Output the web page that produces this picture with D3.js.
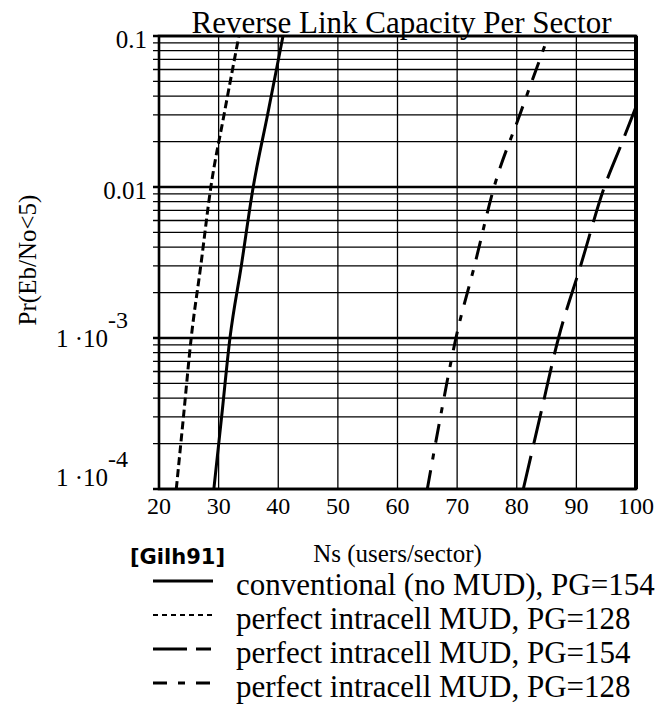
<!DOCTYPE html>
<html><head><meta charset="utf-8">
<script src="https://cdn.jsdelivr.net/npm/d3@7"></script>
<style>html,body{margin:0;padding:0;background:#fff;} svg{display:block;}</style>
</head><body>
<script>
// ---- data ----
const title = "Reverse Link Capacity Per Sector";
const xLabel = "Ns (users/sector)";
const yLabel = "Pr(Eb/No<5)";
const note = "[Gilh91]";
const xTicks = [20, 30, 40, 50, 60, 70, 80, 90, 100];
const yTickValues = [0.1, 0.01, 1e-3, 1e-4];
const yTickMantissa = ["0.1", "0.01", "1 \u00B710", "1 \u00B710"];
const yTickExponent = ["", "", "-3", "-4"];

const seriesNames = [
  "conventional (no MUD), PG=154",
  "perfect intracell MUD, PG=128",
  "perfect intracell MUD, PG=154",
  "perfect intracell MUD, PG=128"
];
// curve 1: solid
const s1Ns = [29.2, 30.5, 31.9, 33.8, 35.8, 38.2, 40.8];
const s1Pr = [1e-4, 3e-4, 1e-3, 3e-3, 1e-2, 3e-2, 1e-1];
// curve 2: short dashes
const s2Ns = [22.9, 24.1, 25.4, 27.0, 28.7, 30.9, 33.4];
const s2Pr = [1e-4, 3e-4, 1e-3, 3e-3, 1e-2, 3e-2, 1e-1];
// curve 3: long dashes
const s3Ns = [81.1, 83.9, 87.0, 90.7, 94.7, 97.5, 100];
const s3Pr = [1e-4, 3e-4, 1e-3, 3e-3, 1e-2, 1.9e-2, 3.4e-2];
// curve 4: long-short dashes
const s4Ns = [65.0, 67.2, 69.8, 72.9, 76.2, 80.5, 85.3];
const s4Pr = [1e-4, 3e-4, 1e-3, 3e-3, 1e-2, 3e-2, 1e-1];

// ---- drawing ----
const W = 656, H = 712;
const L = 159, R = 636, T = 36, B = 489;
const serif = "'Liberation Serif','Times New Roman',serif";

const svg = d3.select("body").append("svg").attr("width", W).attr("height", H);
svg.append("rect").attr("width", W).attr("height", H).attr("fill", "#fff");

const x = d3.scaleLinear().domain([20, 100]).range([L, R]);
const y = d3.scaleLog().domain([1e-4, 0.1]).range([B, T]);

const styles = [
  {dash: null, w: 3, legendDash: null},
  {dash: "8,4", w: 3, legendDash: "5,4"},
  {dash: "34,12", w: 3, legendDash: "34,9,15"},
  {dash: "19,11,6,11", w: 3, legendDash: "14,11,7,11"}
];

// grid
const isDecade = v => Math.abs(Math.log10(v) - Math.round(Math.log10(v))) < 1e-9;
svg.append("g").selectAll("line").data(y.ticks()).join("line")
  .attr("x1", L - 6).attr("x2", R)
  .attr("y1", d => y(d)).attr("y2", d => y(d))
  .attr("stroke", "#000").attr("stroke-width", d => isDecade(d) ? 2.6 : 1.3);
svg.append("g").selectAll("line").data(xTicks.slice(1, -1)).join("line")
  .attr("x1", d => x(d)).attr("x2", d => x(d))
  .attr("y1", T).attr("y2", B)
  .attr("stroke", "#000").attr("stroke-width", 1.3);

// frame
svg.append("rect").attr("x", L).attr("y", T).attr("width", R - L).attr("height", B - T)
  .attr("fill", "none").attr("stroke", "#000").attr("stroke-width", 2.6);
svg.append("line").attr("x1", R).attr("x2", R).attr("y1", T).attr("y2", B)
  .attr("stroke", "#000").attr("stroke-width", 4);

// curves
svg.append("clipPath").attr("id", "plotclip").append("rect")
  .attr("x", L).attr("y", T).attr("width", R - L).attr("height", B - T);
const line = d3.line().x(d => x(d[0])).y(d => y(d[1])).curve(d3.curveMonotoneX);
const series = [
  d3.zip(s1Ns, s1Pr), d3.zip(s2Ns, s2Pr), d3.zip(s3Ns, s3Pr), d3.zip(s4Ns, s4Pr)
];
svg.append("g").attr("clip-path", "url(#plotclip)")
  .selectAll("path").data(series).join("path")
  .attr("d", line).attr("fill", "none").attr("stroke", "#000")
  .attr("stroke-width", (d, i) => styles[i].w)
  .attr("stroke-dasharray", (d, i) => styles[i].dash);

// x tick labels
svg.append("g").selectAll("text").data(xTicks).join("text")
  .attr("x", d => x(d)).attr("y", B + 25)
  .attr("text-anchor", "middle").attr("font-family", serif).attr("font-size", 24)
  .text(d => d);

// y tick labels
const yl = svg.append("g").selectAll("text").data(yTickValues).join("text")
  .attr("font-family", serif).attr("font-size", 25).attr("text-anchor", "end")
  .attr("x", (d, i) => yTickExponent[i] ? 128 : 147)
  .attr("y", (d, i) => {
    if (!yTickExponent[i]) return y(d) + 12;
    return i === yTickValues.length - 1 ? y(d) - 3 : y(d) + 9;
  });
yl.append("tspan").text((d, i) => yTickMantissa[i]);
yl.append("tspan").attr("dy", -19).attr("font-size", 24).text((d, i) => yTickExponent[i]);

// title
svg.append("text").attr("x", (L + R) / 2 + 4).attr("y", 33).attr("text-anchor", "middle")
  .attr("font-family", serif).attr("font-size", 31).text(title);

// y axis label
svg.append("text").attr("transform", `translate(36,260) rotate(-90)`)
  .attr("text-anchor", "middle").attr("font-family", serif).attr("font-size", 25).text(yLabel);

// x axis label
svg.append("text").attr("x", (L + R) / 2).attr("y", 562).attr("text-anchor", "middle")
  .attr("font-family", serif).attr("font-size", 25).text(xLabel);

// note
svg.append("text").attr("x", 130).attr("y", 564)
  .attr("font-family", "'DejaVu Sans',sans-serif").attr("font-size", 21).attr("font-weight", "bold")
  .text(note);

// legend
const legendOrder = [0, 1, 2, 3];
const legendBase = [595, 629, 663, 697];
const lg = svg.append("g").selectAll("g").data(legendOrder).join("g")
  .attr("transform", (d, i) => `translate(0,${legendBase[i]})`);
lg.append("line").attr("x1", 153).attr("x2", 213).attr("y1", -14).attr("y2", -14)
  .attr("stroke", "#000")
  .attr("stroke-width", d => d === 1 ? 2.2 : styles[d].w)
  .attr("stroke-dasharray", d => styles[d].legendDash);
lg.append("text").attr("x", 236).attr("y", 0)
  .attr("font-family", serif).attr("font-size", 31).text(d => seriesNames[d]);
</script>
</body></html>
